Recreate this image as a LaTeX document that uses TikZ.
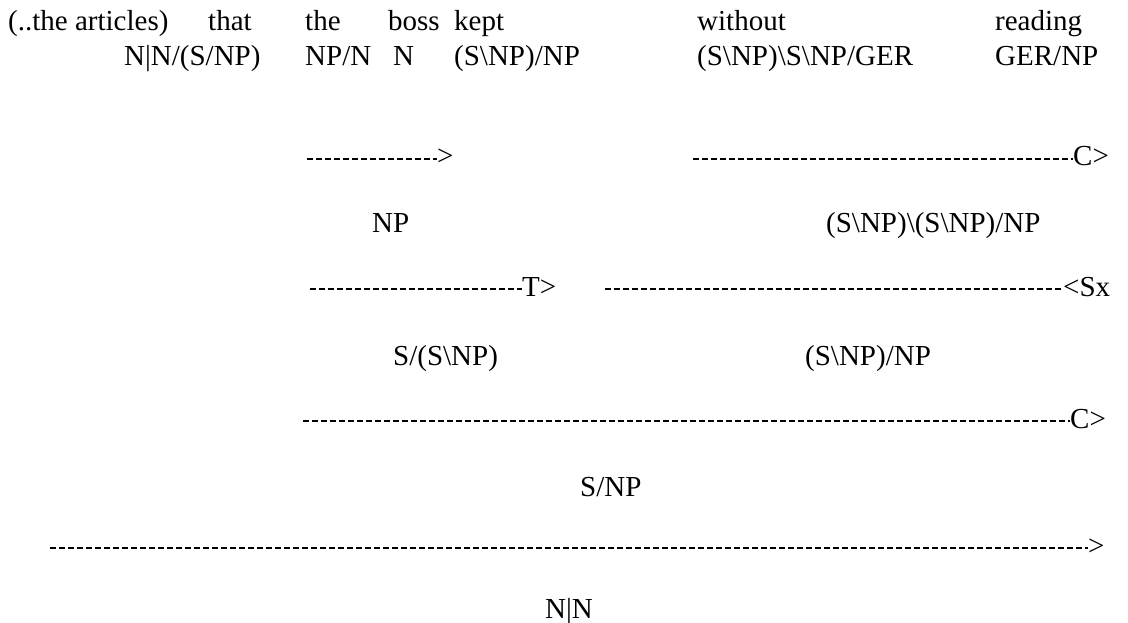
\documentclass[tikz,border=0pt]{standalone}
\usepackage{fontspec}
\setmainfont{Liberation Serif}
\begin{document}
\begin{tikzpicture}[x=1pt,y=-1pt,
  word/.style={anchor=base west, inner sep=0pt, font=\fontsize{29}{33}\selectfont},
  rulelbl/.style={anchor=base west, inner sep=0pt, font=\fontsize{29}{33}\selectfont},
  rule/.style={line width=2.2pt, dash pattern=on 6pt off 3pt}]
\useasboundingbox (0,0) rectangle (1128,623);

% lexical items
\node[word] (w0) at (8,31) {(..the articles)};
\node[word] (w1) at (208,31) {that};
\node[word] (w2) at (305,31) {the};
\node[word] (w3) at (388,31) {boss};
\node[word] (w4) at (454,31) {kept};
\node[word] (w5) at (697,31) {without};
\node[word] (w6) at (995,31) {reading};

% categories
\node[word] (c1) at (124,66) {N|N/(S/NP)};
\node[word] (c2) at (305,66) {NP/N};
\node[word] (c3) at (393,66) {N};
\node[word] (c4) at (454,66) {(S\textbackslash NP)/NP};
\node[word] (c5) at (697,66) {(S\textbackslash NP)\textbackslash S\textbackslash NP/GER};
\node[word] (c6) at (995,66) {GER/NP};

% derivation steps
\coordinate (r1s) at (307,159);
\node[rulelbl] (r1e) at (437,166) {>};
\draw[rule] (r1s) -- (r1s -| r1e.west);

\coordinate (r2s) at (693,159);
\node[rulelbl] (r2e) at (1073,166) {C>};
\draw[rule] (r2s) -- (r2s -| r2e.west);

\node[word] (d1) at (372,233) {NP};
\node[word] (d2) at (826,233) {(S\textbackslash NP)\textbackslash(S\textbackslash NP)/NP};

\coordinate (r3s) at (310,289);
\node[rulelbl] (r3e) at (522,296) {T>};
\draw[rule] (r3s) -- (r3s -| r3e.west);

\coordinate (r4s) at (605,289);
\node[rulelbl] (r4e) at (1063,296) {<Sx};
\draw[rule] (r4s) -- (r4s -| r4e.west);

\node[word] (d3) at (393,365) {S/(S\textbackslash NP)};
\node[word] (d4) at (805,365) {(S\textbackslash NP)/NP};

\coordinate (r5s) at (303,421);
\node[rulelbl] (r5e) at (1070,428) {C>};
\draw[rule] (r5s) -- (r5s -| r5e.west);

\node[word] (d5) at (580,496) {S/NP};

\coordinate (r6s) at (50,548);
\node[rulelbl] (r6e) at (1088,555) {>};
\draw[rule] (r6s) -- (r6s -| r6e.west);

\node[word] (d6) at (545,618) {N|N};
\end{tikzpicture}
\end{document}
